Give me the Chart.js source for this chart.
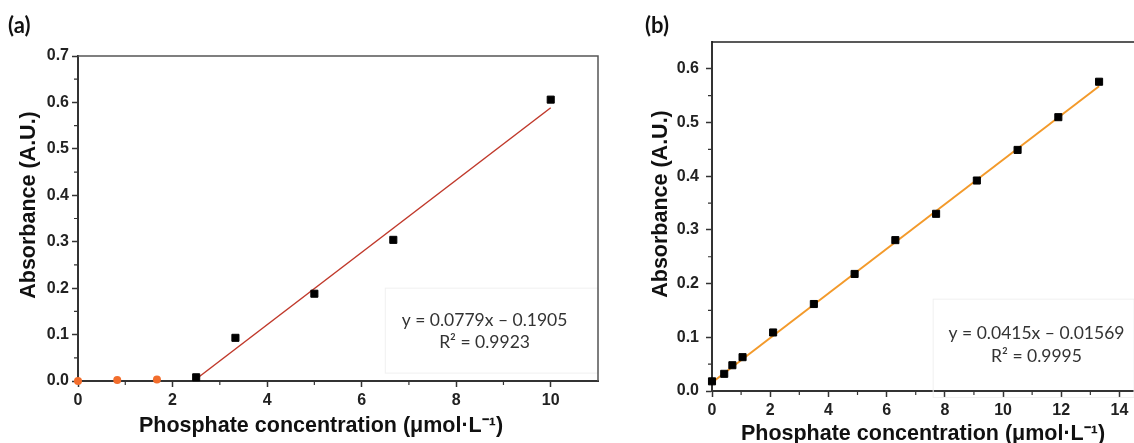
<!DOCTYPE html>
<html lang="en">
<head>
<meta charset="UTF-8">
<title>Phosphate calibration curves</title>
<script src="https://cdn.jsdelivr.net/npm/chart.js"></script>
<style>
  body { margin: 0; background: #fff; width: 1134px; height: 443px; position: relative; overflow: hidden; }
  canvas { position: absolute; top: 0; }
  #chartA { left: 0; }
  #chartB { left: 620px; }
</style>
</head>
<body>
<canvas id="chartA" width="620" height="443"></canvas>
<canvas id="chartB" width="514" height="443"></canvas>
<script>
// ---- panel (a) ----
const blankX_a = [0, 0.83, 1.67];
const blankY_a = [0, 0.002, 0.003];
const stdX_a = [2.5, 3.33, 5.0, 6.67, 10.0];
const stdY_a = [0.008, 0.093, 0.188, 0.304, 0.606];
const fitX_a = [2.5, 10];
const fitY_a = [0.0043, 0.5885];
const xTicks_a = [0, 2, 4, 6, 8, 10];
const yTicks_a = [0, 0.1, 0.2, 0.3, 0.4, 0.5, 0.6, 0.7];
const xMinor_a = [1, 3, 5, 7, 9];
const yMinor_a = [0.05, 0.15, 0.25, 0.35, 0.45, 0.55, 0.65];

// ---- panel (b) ----
const stdX_b = [0, 0.42, 0.7, 1.05, 2.1, 3.5, 4.9, 6.3, 7.7, 9.1, 10.5, 11.9, 13.3];
const stdY_b = [0.018, 0.032, 0.048, 0.063, 0.109, 0.162, 0.218, 0.281, 0.330, 0.392, 0.449, 0.510, 0.576];
const fitX_b = [0, 13.3];
const fitY_b = [0.0157, 0.5677];
const xTicks_b = [0, 2, 4, 6, 8, 10, 12, 14];
const yTicks_b = [0, 0.1, 0.2, 0.3, 0.4, 0.5, 0.6];
const xMinor_b = [1, 3, 5, 7, 9, 11, 13];
const yMinor_b = [0.05, 0.15, 0.25, 0.35, 0.45, 0.55];

const xTitle = 'Phosphate concentration (\u03bcmol\u00b7L\u207b\u00b9)';
const yTitle = 'Absorbance (A.U.)';

const pts = (xs, ys) => xs.map((v, i) => ({ x: v, y: ys[i] }));

const titleFont = 'bold 21.5px "Liberation Sans", Arial, sans-serif';
const noteFont = '17.5px Lato, "Open Sans", sans-serif';
const labelFont = 'bold 22px Lato, "Open Sans", sans-serif';

// frame, minor ticks, fit box, equation, axis titles, panel letter
const decor = {
  id: 'decor',
  afterDraw(chart, args, o) {
    const { ctx, chartArea: a, scales: { x, y } } = chart;
    ctx.save();

    // faint text box of the fit
    ctx.strokeStyle = '#f0f0f0';
    ctx.lineWidth = 1;
    const bx0 = x.getPixelForValue(o.box[0]), by0 = y.getPixelForValue(o.box[1]);
    const bx1 = x.getPixelForValue(o.box[2]), by1 = y.getPixelForValue(o.box[3]);
    ctx.strokeRect(bx0, by1, bx1 - bx0, by0 - by1);

    // top / right frame lines
    ctx.strokeStyle = o.frameColor;
    ctx.lineWidth = 1.5;
    ctx.beginPath();
    ctx.moveTo(a.left, a.top);
    ctx.lineTo(a.right, a.top);
    if (o.rightEdge) ctx.lineTo(a.right, a.bottom);
    ctx.stroke();

    // minor ticks
    ctx.strokeStyle = '#333';
    ctx.lineWidth = 1.2;
    ctx.beginPath();
    o.minorX.forEach(v => {
      const px = x.getPixelForValue(v);
      ctx.moveTo(px, a.bottom);
      ctx.lineTo(px, a.bottom + 4);
    });
    o.minorY.forEach(v => {
      const py = y.getPixelForValue(v);
      ctx.moveTo(a.left, py);
      ctx.lineTo(a.left - 4, py);
    });
    ctx.stroke();

    // equation
    ctx.fillStyle = '#333';
    ctx.font = noteFont;
    ctx.textAlign = 'center';
    ctx.textBaseline = 'middle';
    o.eq.forEach((line, i) => {
      ctx.fillText(line, x.getPixelForValue(o.eqX), y.getPixelForValue(o.eqY[i]));
    });

    // axis titles
    ctx.fillStyle = '#111';
    ctx.font = titleFont;
    ctx.textBaseline = 'alphabetic';
    ctx.fillText(xTitle, o.xTitlePos[0], o.xTitlePos[1]);
    ctx.save();
    ctx.translate(o.yTitlePos[0], o.yTitlePos[1]);
    ctx.rotate(-Math.PI / 2);
    ctx.fillText(yTitle, 0, 0);
    ctx.restore();

    // panel letter
    ctx.font = labelFont;
    ctx.textAlign = 'left';
    ctx.fillText(o.label, o.labelPos[0], o.labelPos[1]);

    ctx.restore();
  }
};

function scaleOpts(min, max, ticks, fmt, size, isX, tickPad) {
  return {
    type: 'linear',
    min: min,
    max: max,
    border: { color: '#333', width: 2 },
    grid: { drawOnChartArea: false, tickLength: 6, tickWidth: 1.5, tickColor: '#333' },
    ticks: {
      padding: tickPad,
      color: '#222',
      maxRotation: 0,
      autoSkip: false,
      font: { family: '"Liberation Sans", Arial, sans-serif', size: 16, weight: 'bold' },
      callback: fmt
    },
    afterBuildTicks: s => { s.ticks = ticks.map(v => ({ value: v })); },
    afterFit: s => { if (isX) s.height = size; else s.width = size; }
  };
}

const squareSet = (data) => ({
  data: data,
  pointStyle: 'rect',
  pointRadius: 5,
  pointBackgroundColor: '#000',
  pointBorderColor: '#000',
  pointBorderWidth: 1,
  showLine: false,
  clip: false
});

const lineSet = (data, color, w) => ({
  data: data,
  showLine: true,
  pointRadius: 0,
  borderColor: color,
  borderWidth: w,
  clip: false
});

// panel (a)
new Chart(document.getElementById('chartA').getContext('2d'), {
  type: 'scatter',
  data: {
    datasets: [
      squareSet(pts(stdX_a, stdY_a)),
      {
        data: pts(blankX_a, blankY_a),
        pointStyle: 'circle',
        pointRadius: 4,
        pointBackgroundColor: '#f26d2c',
        pointBorderWidth: 0,
        clip: false
      },
      lineSet(pts(fitX_a, fitY_a), '#c0392b', 1.5)
    ]
  },
  options: {
    responsive: false,
    animation: false,
    layout: { autoPadding: false, padding: { top: 56, right: 22, left: 0, bottom: 0 } },
    scales: {
      x: scaleOpts(0, 11, xTicks_a, v => String(v), 62, true, 4),
      y: scaleOpts(0, 0.7, yTicks_a, v => v.toFixed(1), 78, false, 3)
    },
    plugins: {
      legend: { display: false },
      decor: {
        label: '(a)', labelPos: [8, 33],
        xTitlePos: [321, 432], yTitlePos: [35, 205],
        frameColor: '#555', rightEdge: true,
        minorX: xMinor_a, minorY: yMinor_a,
        box: [6.5, 0.017, 11, 0.2],
        eq: ['y = 0.0779x \u2013 0.1905', 'R\u00b2 = 0.9923'],
        eqX: 8.6, eqY: [0.131, 0.084]
      }
    }
  },
  plugins: [decor]
});

// panel (b)
new Chart(document.getElementById('chartB').getContext('2d'), {
  type: 'scatter',
  data: {
    datasets: [
      squareSet(pts(stdX_b, stdY_b)),
      lineSet(pts(fitX_b, fitY_b), '#f39a2b', 2)
    ]
  },
  options: {
    responsive: false,
    animation: false,
    layout: { autoPadding: false, padding: { top: 42, right: 0, left: 0, bottom: 0 } },
    scales: {
      x: scaleOpts(0, 14.5, xTicks_b, v => String(v), 52, true, 4),
      y: scaleOpts(0, 0.65, yTicks_b, v => v.toFixed(1), 92, false, 7)
    },
    plugins: {
      legend: { display: false },
      decor: {
        label: '(b)', labelPos: [25, 33],
        xTitlePos: [303, 440], yTitlePos: [47, 204],
        frameColor: '#222', rightEdge: false,
        minorX: xMinor_b, minorY: yMinor_b,
        box: [7.6, -0.012, 14.5, 0.171],
        eq: ['y = 0.0415x \u2013 0.01569', 'R\u00b2 = 0.9995'],
        eqX: 11.15, eqY: [0.108, 0.065]
      }
    }
  },
  plugins: [decor]
});
</script>
</body>
</html>
